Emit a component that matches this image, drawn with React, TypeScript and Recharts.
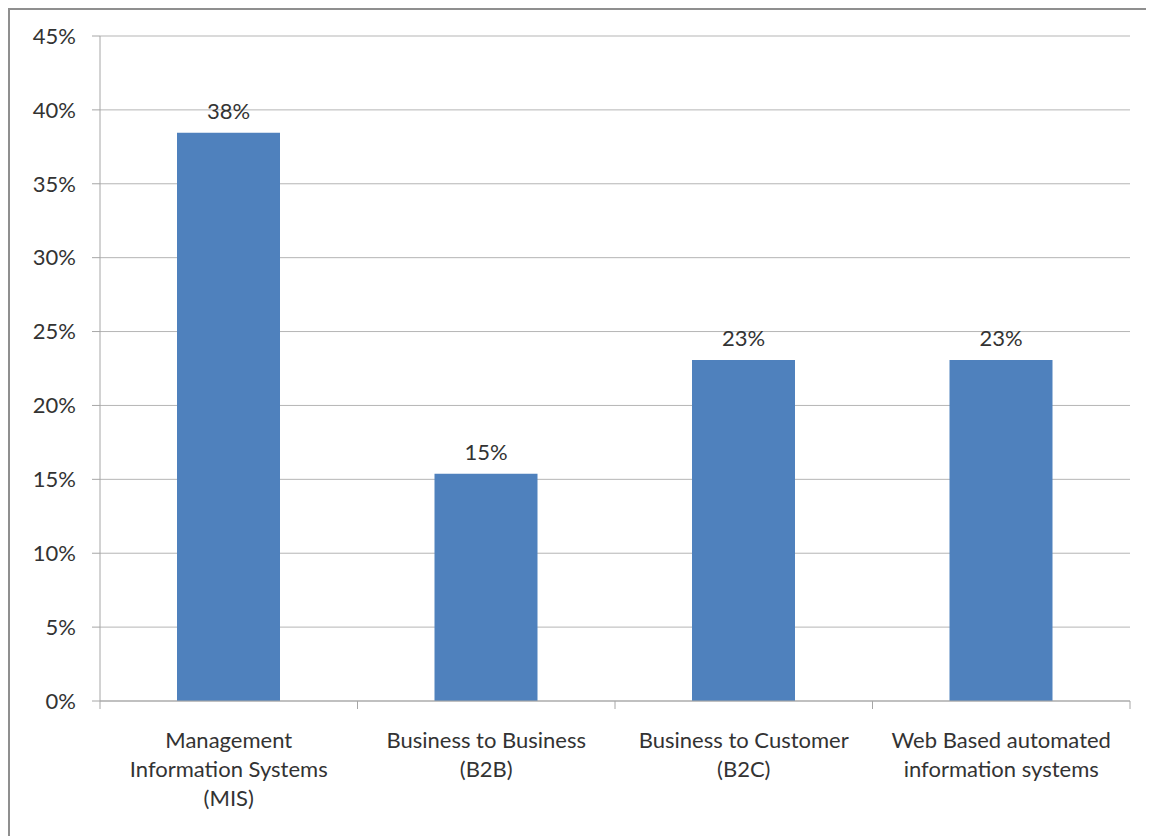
import { BarChart, Bar, XAxis, YAxis, CartesianGrid, LabelList } from 'recharts';

const CATEGORIES = [
  ['Management', 'Information Systems', '(MIS)'],
  ['Business to Business', '(B2B)'],
  ['Business to Customer', '(B2C)'],
  ['Web Based automated', 'information systems'],
];
const SHARES = [38.46, 15.38, 23.08, 23.08];
const Y_TICKS = [0, 5, 10, 15, 20, 25, 30, 35, 40, 45];

const BAR_COLOR = '#4F81BD';
const GRID = '#b5b5b5';
const AXIS = '#a6a6a6';
const TEXT = '#333333';
const FONT = 'Lato, "Noto Sans", sans-serif';
const FS = 22;

const W = 1144;
const H = 826;
const Y_AXIS_W = 90;
const MARGIN = { top: 26, right: 24, left: 0, bottom: 0 };
const PLOT_W = W - Y_AXIS_W - MARGIN.right - MARGIN.left;
const BAND = PLOT_W / CATEGORIES.length;

const data = CATEGORIES.map((lines, i) => ({ name: lines.join(' '), lines, value: SHARES[i] }));

function CategoryTick(props: any) {
  const { x, y, index } = props;
  const lines = data[index].lines;
  return (
    <g>
      <line x1={x - BAND / 2} y1={y} x2={x - BAND / 2} y2={y + 8} stroke={AXIS} />
      {index === data.length - 1 && (
        <line x1={x + BAND / 2} y1={y} x2={x + BAND / 2} y2={y + 8} stroke={AXIS} />
      )}
      <text x={x} y={y + 47} textAnchor="middle" fill={TEXT} fontSize={FS} fontFamily={FONT}>
        {lines.map((l: string, i: number) => (
          <tspan key={i} x={x} dy={i === 0 ? 0 : 29}>
            {l}
          </tspan>
        ))}
      </text>
    </g>
  );
}

export default function App() {
  return (
    <div style={{ width: W, height: H, borderTop: '2px solid #8f8f8f', borderLeft: '2px solid #8f8f8f', background: '#fff' }}>
      <BarChart width={W} height={H} data={data} margin={MARGIN} barSize={103}>
        <CartesianGrid vertical={false} stroke={GRID} />
        <XAxis
          dataKey="name"
          height={H - MARGIN.top - 665}
          stroke={AXIS}
          tickLine={false}
          tickSize={0}
          tickMargin={0}
          interval={0}
          tick={<CategoryTick />}
        />
        <YAxis
          width={Y_AXIS_W}
          domain={[0, 45]}
          ticks={Y_TICKS}
          interval={0}
          stroke={AXIS}
          tickSize={8}
          tickMargin={16}
          tick={{ fill: TEXT, fontSize: FS, fontFamily: FONT }}
          tickFormatter={(v: number) => `${v}%`}
        />
        <Bar dataKey="value" fill={BAR_COLOR} isAnimationActive={false}>
          <LabelList
            dataKey="value"
            position="top"
            offset={14}
            fill={TEXT}
            fontSize={FS}
            fontFamily={FONT}
            formatter={(v: any) => `${Math.round(v)}%`}
          />
        </Bar>
      </BarChart>
    </div>
  );
}
